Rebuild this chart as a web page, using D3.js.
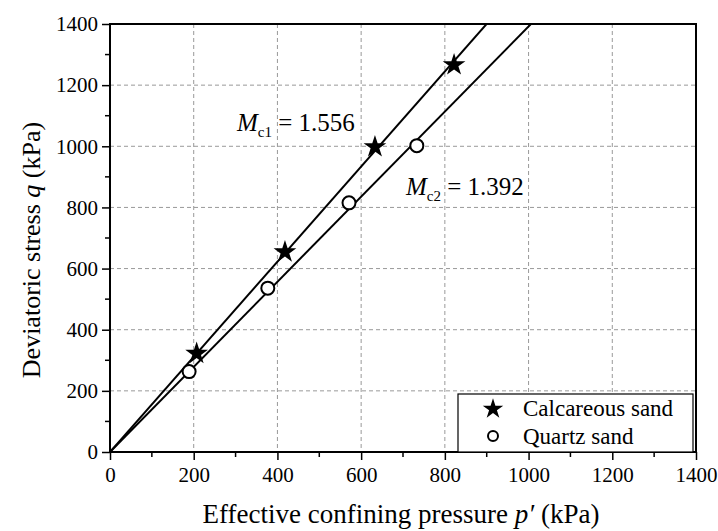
<!DOCTYPE html>
<html>
<head>
<meta charset="utf-8">
<script src="https://cdn.jsdelivr.net/npm/d3@7"></script>
<style>
  body { margin: 0; background: #fff; }
  svg text { font-family: "Liberation Serif", "Times New Roman", serif; fill: #000; }
</style>
</head>
<body>
<div id="chart"></div>
<script>
// data
const calcP = [207, 418, 633, 822];
const calcQ = [322, 654, 998, 1266];
const quartzP = [189, 377, 571, 733];
const quartzQ = [263, 536, 815, 1002];
const slopes = [1.556, 1.392];
const xTicks = [0, 200, 400, 600, 800, 1000, 1200, 1400];
const yTicks = [0, 200, 400, 600, 800, 1000, 1200, 1400];

const WIDTH = 718;
const HEIGHT = 531;
const margin = { left: 110, right: 22, top: 24, bottom: 79 };
const innerW = WIDTH - margin.left - margin.right;
const innerH = HEIGHT - margin.top - margin.bottom;

const svg = d3.select('#chart')
    .append('svg')
    .attr('width', WIDTH)
    .attr('height', HEIGHT);

const g = svg.append('g')
    .attr('transform', `translate(${margin.left},${margin.top})`);

const x = d3.scaleLinear().domain([0, 1400]).range([0, innerW]);
const y = d3.scaleLinear().domain([0, 1400]).range([innerH, 0]);

// grid
g.append('g')
    .selectAll('line')
    .data(xTicks.slice(1, -1))
    .enter()
    .append('line')
    .attr('x1', d => x(d)).attr('x2', d => x(d))
    .attr('y1', 0).attr('y2', innerH)
    .attr('stroke', '#999').attr('stroke-dasharray', '4,3');
g.append('g')
    .selectAll('line')
    .data(yTicks.slice(1, -1))
    .enter()
    .append('line')
    .attr('y1', d => y(d)).attr('y2', d => y(d))
    .attr('x1', 0).attr('x2', innerW)
    .attr('stroke', '#999').attr('stroke-dasharray', '4,3');

// clip for fit lines
svg.append('clipPath').attr('id', 'clip')
    .append('rect').attr('width', innerW).attr('height', innerH);

const lineGroup = g.append('g').attr('clip-path', 'url(#clip)');
slopes.forEach(m => {
    lineGroup.append('line')
        .attr('x1', x(0)).attr('y1', y(0))
        .attr('x2', x(1400)).attr('y2', y(1400 * m))
        .attr('stroke', '#000').attr('stroke-width', 2);
});

// points
const star = d3.symbol().type(d3.symbolStar).size(160);
g.selectAll('.star')
    .data(calcP.map((p, i) => [p, calcQ[i]]))
    .enter()
    .append('path')
    .attr('class', 'star')
    .attr('d', star)
    .attr('transform', d => `translate(${x(d[0])},${y(d[1])})`)
    .attr('fill', '#000');

g.selectAll('.circ')
    .data(quartzP.map((p, i) => [p, quartzQ[i]]))
    .enter()
    .append('circle')
    .attr('class', 'circ')
    .attr('cx', d => x(d[0]))
    .attr('cy', d => y(d[1]))
    .attr('r', 6.5)
    .attr('fill', '#fff')
    .attr('stroke', '#000')
    .attr('stroke-width', 2);

// axes
const xAxis = d3.axisBottom(x).tickValues(xTicks).tickFormat(d3.format('d')).tickSize(8).tickPadding(7);
const yAxis = d3.axisLeft(y).tickValues(yTicks).tickFormat(d3.format('d')).tickSize(8).tickPadding(4);

const gx = g.append('g').attr('transform', `translate(0,${innerH})`).call(xAxis);
const gy = g.append('g').call(yAxis);
[gx, gy].forEach(a => {
    a.attr('font-family', null).attr('font-size', null);
    a.select('.domain').remove();
    a.selectAll('line').attr('stroke', '#000').attr('stroke-width', 1.5);
    a.selectAll('text').attr('font-size', 21);
});

// minor ticks
const minor = d3.range(100, 1400, 200);
g.append('g').selectAll('line').data(minor).enter().append('line')
    .attr('x1', d => x(d)).attr('x2', d => x(d))
    .attr('y1', innerH).attr('y2', innerH + 5)
    .attr('stroke', '#000').attr('stroke-width', 1.5);
g.append('g').selectAll('line').data(minor).enter().append('line')
    .attr('y1', d => y(d)).attr('y2', d => y(d))
    .attr('x1', 0).attr('x2', -5)
    .attr('stroke', '#000').attr('stroke-width', 1.5);

// frame
g.append('rect')
    .attr('width', innerW).attr('height', innerH)
    .attr('fill', 'none').attr('stroke', '#000').attr('stroke-width', 2);

// annotations
function slopeLabel(px, py, sub, val) {
    const t = g.append('text').attr('x', px).attr('y', py).attr('font-size', 25);
    t.append('tspan').attr('font-style', 'italic').text('M');
    t.append('tspan').attr('font-size', 15).attr('dy', 6).text(sub);
    t.append('tspan').attr('dy', -6).text(' = ' + val);
}
slopeLabel(237 - margin.left, 131 - margin.top, 'c1', '1.556');
slopeLabel(406 - margin.left, 195 - margin.top, 'c2', '1.392');

// legend
const lg = g.append('g').attr('transform', `translate(${458 - margin.left},${394 - margin.top})`);
lg.append('rect')
    .attr('width', innerW - (458 - margin.left) - 3)
    .attr('height', innerH - (394 - margin.top))
    .attr('fill', '#fff').attr('stroke', '#000').attr('stroke-width', 1.2);
lg.append('path').attr('d', d3.symbol().type(d3.symbolStar).size(130))
    .attr('transform', 'translate(35,15)').attr('fill', '#000');
lg.append('circle').attr('cx', 35).attr('cy', 42).attr('r', 5)
    .attr('fill', '#fff').attr('stroke', '#000').attr('stroke-width', 2);
lg.append('text').attr('x', 65).attr('y', 22).attr('font-size', 23).text('Calcareous sand');
lg.append('text').attr('x', 65).attr('y', 50).attr('font-size', 23).text('Quartz sand');

// axis titles
const xt = svg.append('text')
    .attr('x', 401)
    .attr('y', 523)
    .attr('text-anchor', 'middle')
    .attr('font-size', 27);
xt.append('tspan').text('Effective confining pressure ');
xt.append('tspan').attr('font-style', 'italic').text('p\u2032');
xt.append('tspan').text(' (kPa)');

const yt = svg.append('text')
    .attr('transform', 'translate(40,250) rotate(-90)')
    .attr('text-anchor', 'middle')
    .attr('font-size', 26);
yt.append('tspan').text('Deviatoric stress ');
yt.append('tspan').attr('font-style', 'italic').text('q');
yt.append('tspan').text(' (kPa)');
</script>
</body>
</html>
